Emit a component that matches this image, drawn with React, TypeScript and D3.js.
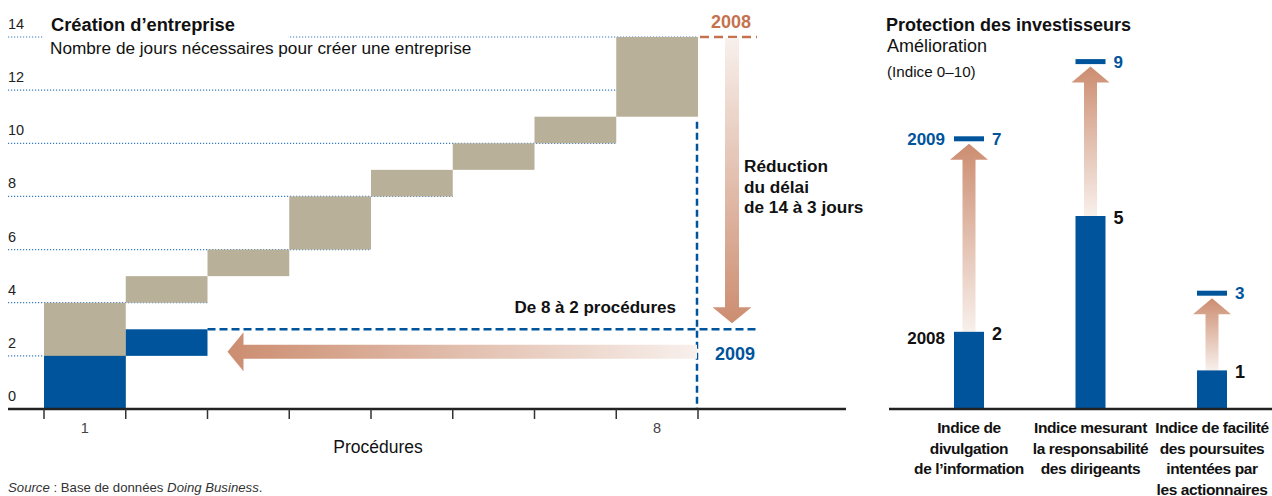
import React from "react";
import * as d3 from "d3";

// ---------- Data ----------
const procedures = [1, 2, 3, 4, 5, 6, 7, 8];
const days2008 = [4, 1, 1, 2, 1, 1, 1, 3];
const days2009 = [2, 1];
const yTickValues = [0, 2, 4, 6, 8, 10, 12, 14];
const xTickLabels = ["1", "", "", "", "", "", "", "8"];

const investorCategories = [
  ["Indice de", "divulgation", "de l’information"],
  ["Indice mesurant", "la responsabilité", "des dirigeants"],
  ["Indice de facilité", "des poursuites", "intentées par", "les actionnaires"],
];
const investor2008 = [2, 5, 1];
const investor2009 = [7, 9, 3];

// ---------- Styles ----------
const BLUE = "#00549c";
const TAN = "#b8b098";
const ORANGE = "#c5724f";
const DARK = "#111";
const GRID = "#3a7cc0";
const FONT = "'Liberation Sans', Arial, sans-serif";
const ARROW_DARK = "#cc8d70";
const ARROW_LIGHT = "#f8f0ec";

function vArrow(cx: number, y0: number, y1: number, sw: number, hw: number, hl: number) {
  const dir = y1 > y0 ? 1 : -1;
  const yb = y1 - dir * hl;
  return `M${cx - sw / 2},${y0}L${cx + sw / 2},${y0}L${cx + sw / 2},${yb}L${cx + hw / 2},${yb}L${cx},${y1}L${cx - hw / 2},${yb}L${cx - sw / 2},${yb}Z`;
}
function hArrow(cy: number, x0: number, x1: number, sw: number, hw: number, hl: number) {
  const dir = x1 > x0 ? 1 : -1;
  const xb = x1 - dir * hl;
  return `M${x0},${cy - sw / 2}L${xb},${cy - sw / 2}L${xb},${cy - hw / 2}L${x1},${cy}L${xb},${cy + hw / 2}L${xb},${cy + sw / 2}L${x0},${cy + sw / 2}Z`;
}

export default function App() {
  // Left panel scales
  const x = d3.scaleLinear().domain([0, procedures.length]).range([44, 698]);
  const y = d3.scaleLinear().domain([0, 14]).range([409, 37]);
  const ends2008 = Array.from(d3.cumsum(days2008) as unknown as number[]);
  const starts2008 = ends2008.map((c, i) => c - days2008[i]);
  const ends2009 = Array.from(d3.cumsum(days2009) as unknown as number[]);
  const starts2009 = ends2009.map((c, i) => c - days2009[i]);
  const total2008 = ends2008[ends2008.length - 1];
  const total2009 = ends2009[ends2009.length - 1];
  const n2009 = days2009.length;

  // Right panel scales
  const catKeys = investorCategories.map((c) => c.join(" "));
  const xr = d3.scalePoint().domain(catKeys).range([969, 1212]);
  const yr = d3.scaleLinear().domain([0, 10]).range([409, 23]);
  const barW = 30;

  const gridEnd = (v: number) => {
    let idx = 0;
    starts2008.forEach((s, i) => {
      if (s <= v) idx = i;
    });
    return x(idx + 1);
  };

  const vx = x(procedures.length) + 34; // vertical arrow centre
  const hy = y(total2009 - 1) - 4; // horizontal arrow centre

  return (
    <svg
      width={1272}
      height={496}
      style={{ position: "absolute", left: 0, top: 0, background: "#fff" }}
      fontFamily={FONT}
    >
      <defs>
        <linearGradient id="gDown" x1="0" y1="0" x2="0" y2="1">
          <stop offset="0" stopColor={ARROW_LIGHT} />
          <stop offset="1" stopColor={ARROW_DARK} />
        </linearGradient>
        <linearGradient id="gLeft" x1="1" y1="0" x2="0" y2="0">
          <stop offset="0" stopColor={ARROW_LIGHT} />
          <stop offset="1" stopColor={ARROW_DARK} />
        </linearGradient>
        <linearGradient id="gUp" x1="0" y1="1" x2="0" y2="0">
          <stop offset="0" stopColor={ARROW_LIGHT} />
          <stop offset="1" stopColor={ARROW_DARK} />
        </linearGradient>
      </defs>

      {/* ---------- Left panel ---------- */}
      {yTickValues
        .filter((v) => v > 0)
        .map((v) => (
          <line
            key={"g" + v}
            x1={8}
            x2={gridEnd(v)}
            y1={y(v)}
            y2={y(v)}
            stroke={GRID}
            strokeWidth={1.2}
            strokeDasharray="1.2,1.8"
          />
        ))}
      {yTickValues.map((v) => (
        <text key={"yt" + v} x={8} y={y(v) - 8} fontSize={14.5} fill="#222">
          {v}
        </text>
      ))}

      <rect x={44} y={12} width={244} height={30} fill="#fff" />
      <text x={51} y={31} fontSize={18.3} fontWeight="bold" fill={DARK}>
        Création d’entreprise
      </text>
      <text x={50} y={54} fontSize={17.2} fill={DARK}>
        Nombre de jours nécessaires pour créer une entreprise
      </text>

      {days2008.map((d, i) => (
        <rect
          key={"b8" + i}
          x={x(i)}
          width={x(i + 1) - x(i)}
          y={y(ends2008[i])}
          height={y(starts2008[i]) - y(ends2008[i])}
          fill={TAN}
        />
      ))}
      {days2009.map((d, i) => (
        <rect
          key={"b9" + i}
          x={x(i)}
          width={x(i + 1) - x(i)}
          y={y(ends2009[i])}
          height={y(starts2009[i]) - y(ends2009[i])}
          fill={BLUE}
        />
      ))}

      <line
        x1={x(n2009)}
        x2={757}
        y1={y(total2009)}
        y2={y(total2009)}
        stroke={BLUE}
        strokeWidth={2.5}
        strokeDasharray="8,4"
      />
      <line
        x1={x(procedures.length) - 1}
        x2={x(procedures.length) - 1}
        y1={y(ends2008[procedures.length - 2]) + 5}
        y2={y(0)}
        stroke={BLUE}
        strokeWidth={2.5}
        strokeDasharray="7,4"
      />
      <line
        x1={x(procedures.length) + 2}
        x2={757}
        y1={y(total2008)}
        y2={y(total2008)}
        stroke={ORANGE}
        strokeWidth={2.5}
        strokeDasharray="9,5"
      />

      <path d={vArrow(vx, y(total2008) + 1, y(total2009) - 6, 14, 39, 16)} fill="url(#gDown)" />
      <path d={hArrow(hy, x(procedures.length) - 1, x(n2009) + 20, 14, 39, 16)} fill="url(#gLeft)" />

      <text x={731} y={28} fontSize={18} fontWeight="bold" fill={ORANGE} textAnchor="middle">
        2008
      </text>
      <text x={735} y={360} fontSize={18} fontWeight="bold" fill={BLUE} textAnchor="middle">
        2009
      </text>
      <text x={676} y={313} fontSize={17} fontWeight="bold" fill={DARK} textAnchor="end">
        De 8 à 2 procédures
      </text>
      {["Réduction", "du délai", "de 14 à 3 jours"].map((t, i) => (
        <text key={t} x={744} y={172 + i * 20.5} fontSize={17.2} fontWeight="bold" fill={DARK}>
          {t}
        </text>
      ))}

      <line x1={8} x2={846} y1={y(0)} y2={y(0)} stroke="#222" strokeWidth={2.5} />
      {d3.range(procedures.length + 1).map((i) => (
        <line key={"xt" + i} x1={x(i)} x2={x(i)} y1={y(0)} y2={y(0) + 10} stroke="#333" strokeWidth={1.5} />
      ))}
      {xTickLabels.map((l, i) =>
        l ? (
          <text key={"xl" + i} x={(x(i) + x(i + 1)) / 2} y={433} fontSize={14.5} fill="#444" textAnchor="middle">
            {l}
          </text>
        ) : null
      )}
      <text x={378} y={453} fontSize={17.5} fill={DARK} textAnchor="middle">
        Procédures
      </text>

      <text x={8} y={492} fontSize={13.2} fill="#333">
        <tspan fontStyle="italic">Source</tspan>
        <tspan> : Base de données </tspan>
        <tspan fontStyle="italic">Doing Business</tspan>
        <tspan>.</tspan>
      </text>

      {/* ---------- Right panel ---------- */}
      <text x={886} y={31} fontSize={18} fontWeight="bold" fill={DARK}>
        Protection des investisseurs
      </text>
      <text x={887} y={52} fontSize={18} fill={DARK}>
        Amélioration
      </text>
      <text x={887} y={77} fontSize={15.2} fill={DARK}>
        (Indice 0–10)
      </text>

      {catKeys.map((k, i) => {
        const cx = xr(k) as number;
        const top = yr(investor2008[i]);
        const mark = yr(investor2009[i]);
        return (
          <g key={k}>
            <path d={vArrow(cx, top, mark + 5, 13, 38, 16)} fill="url(#gUp)" />
            <rect x={cx - barW / 2} y={top} width={barW} height={yr(0) - top} fill={BLUE} />
            <rect x={cx - barW / 2} y={mark - 2.5} width={barW} height={5} fill={BLUE} />
            <text x={cx + barW / 2 + 8} y={top + 8} fontSize={18} fontWeight="bold" fill={DARK}>
              {investor2008[i]}
            </text>
            <text x={cx + barW / 2 + 8} y={mark + 6} fontSize={17} fontWeight="bold" fill={BLUE}>
              {investor2009[i]}
            </text>
            {i === 0 && (
              <>
                <text x={cx - barW / 2 - 9} y={mark + 6} fontSize={17} fontWeight="bold" fill={BLUE} textAnchor="end">
                  2009
                </text>
                <text x={cx - barW / 2 - 9} y={top + 12} fontSize={17} fontWeight="bold" fill={DARK} textAnchor="end">
                  2008
                </text>
              </>
            )}
            {investorCategories[i].map((line, j) => (
              <text
                key={line}
                x={cx}
                y={433 + j * 20.5}
                fontSize={15.5}
                fontWeight="bold"
                fill={DARK}
                textAnchor="middle"
                letterSpacing={-0.4}
              >
                {line}
              </text>
            ))}
          </g>
        );
      })}
      <line x1={889} x2={1272} y1={yr(0)} y2={yr(0)} stroke="#222" strokeWidth={2.5} />
    </svg>
  );
}
